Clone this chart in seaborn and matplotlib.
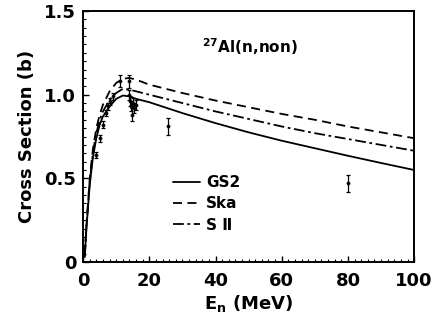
import numpy as np
import pandas as pd
import matplotlib
matplotlib.use("Agg")
import matplotlib.pyplot as plt
import seaborn as sns
from matplotlib.ticker import MultipleLocator, FuncFormatter

# ---- data ----
energy = [0.5, 1, 2, 3, 4, 5, 6, 8, 10, 12, 14, 16, 20, 30, 40, 50, 60, 70, 80, 90, 100]
gs2 = [0.03, 0.20, 0.46, 0.63, 0.74, 0.82, 0.87, 0.93, 0.975, 0.995, 0.99, 0.975, 0.955, 0.89, 0.83, 0.775, 0.725, 0.68, 0.635, 0.592, 0.55]
ska = [0.04, 0.22, 0.50, 0.68, 0.80, 0.88, 0.94, 1.02, 1.07, 1.095, 1.10, 1.09, 1.06, 1.01, 0.965, 0.925, 0.885, 0.85, 0.81, 0.775, 0.74]
s2 = [0.035, 0.21, 0.48, 0.66, 0.77, 0.85, 0.90, 0.97, 1.01, 1.035, 1.03, 1.02, 1.00, 0.95, 0.90, 0.855, 0.81, 0.77, 0.735, 0.70, 0.665]

exp_e = [3.9, 5.0, 6.0, 6.8, 7.5, 8.2, 9.0, 11.0, 13.8, 14.0, 14.2, 14.5, 14.8, 15.0, 15.5, 16.0, 25.5, 80.0]
exp_s = [0.64, 0.74, 0.82, 0.89, 0.93, 0.96, 0.99, 1.08, 1.08, 1.00, 0.96, 0.93, 0.88, 0.95, 0.92, 0.94, 0.81, 0.47]
exp_err = [0.02, 0.02, 0.02, 0.02, 0.02, 0.02, 0.02, 0.035, 0.04, 0.03, 0.03, 0.03, 0.04, 0.03, 0.03, 0.03, 0.05, 0.05]

series_names = ["GS2", "Ska", "S \u2161"]
x_ticks = [0, 20, 40, 60, 80, 100]
y_ticks = [0, 0.5, 1.0, 1.5]

sns.set_theme(style="white")
plt.rcParams['font.family'] = ['DejaVu Sans']
plt.rcParams['font.weight'] = 'bold'
plt.rcParams['mathtext.default'] = 'bf'
for k in ['text.color', 'axes.labelcolor', 'xtick.color', 'ytick.color']:
    plt.rcParams[k] = 'black'

fig = plt.figure(figsize=(4.42, 3.33), dpi=100)
ax = fig.add_axes([0.188, 0.213, 0.749, 0.754])

styles = [None, (5, 3), (6, 2, 1.5, 2)]
for name, vals, dash in zip(series_names, [gs2, ska, s2], styles):
    df = pd.DataFrame({"E": energy, "S": vals})
    sns.lineplot(data=df, x="E", y="S", ax=ax, color="black", lw=1.3, label=name)
    if dash is not None:
        ax.lines[-1].set_dashes(dash)

ax.errorbar(exp_e, exp_s, yerr=exp_err, fmt='none', ecolor='black', elinewidth=0.9, capsize=1.5, capthick=0.9)
sns.scatterplot(x=exp_e, y=exp_s, ax=ax, color='black', s=6, marker='o', edgecolor='black', legend=False, zorder=5)

ax.set_xlim(0, 100)
ax.set_ylim(0, 1.5)
ax.set_xticks(x_ticks)
ax.set_yticks(y_ticks)
ax.yaxis.set_major_formatter(FuncFormatter(lambda v, p: "0" if v == 0 else f"{v:.1f}"))
ax.xaxis.set_minor_locator(MultipleLocator(2))
ax.yaxis.set_minor_locator(MultipleLocator(0.05))
ax.tick_params(which='both', direction='in', top=False, right=False, left=True, bottom=True, color='black')
ax.tick_params(which='major', length=4, width=1, labelsize=13)
ax.tick_params(axis='x', which='major', pad=7)
ax.tick_params(axis='y', which='major', pad=5)
ax.tick_params(which='minor', length=2, width=0.8)
for lab in ax.get_xticklabels() + ax.get_yticklabels():
    lab.set_fontweight('bold')
for sp in ax.spines.values():
    sp.set_color('black')
    sp.set_linewidth(1.4)

ax.set_xlabel(r"E$_\mathbf{n}$ (MeV)", fontsize=13, fontweight='bold', labelpad=2)
ax.set_ylabel("Cross Section (b)", fontsize=13, fontweight='bold', labelpad=6)

ax.text(50.5, 1.285, r"$^{\mathbf{27}}$Al(n,non)", fontsize=11, fontweight='bold', ha='center', va='center')

leg = ax.legend(loc='upper left', bbox_to_anchor=(0.252, 0.37), frameon=False, fontsize=11,
                handlelength=1.8, handletextpad=0.4, labelspacing=0.4, borderaxespad=0)
for t in leg.get_texts():
    t.set_fontweight('bold')

fig.savefig("out.png", dpi=100)
